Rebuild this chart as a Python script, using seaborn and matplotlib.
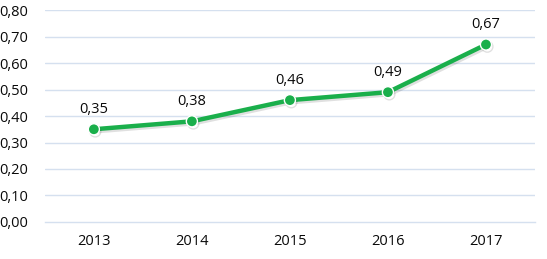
import matplotlib.pyplot as plt
import matplotlib.patheffects as pe
import numpy as np
import pandas as pd
import seaborn as sns

years = ["2013", "2014", "2015", "2016", "2017"]
values = [0.35, 0.38, 0.46, 0.49, 0.67]
yticks = [0.0, 0.1, 0.2, 0.3, 0.4, 0.5, 0.6, 0.7, 0.8]

df = pd.DataFrame({"pos": np.arange(len(years)), "value": values})

sns.set_style("white")
plt.rcParams["font.family"] = ["Open Sans", "DejaVu Sans"]

grid_c = "#d5e0ef"
green = "#1aaf4b"
txt = "#0a0a0a"

fig = plt.figure(figsize=(5.47, 2.59), dpi=100)
ax = fig.add_axes([0.082, 0.143, 0.896, 0.818])

for t in yticks[1:]:
    ax.axhline(t, color=grid_c, lw=1, zorder=0)

sns.lineplot(data=df, x="pos", y="value", ax=ax, color=green, lw=3.2,
             marker="o", markersize=8, markeredgecolor="white",
             markeredgewidth=1, zorder=3,
             path_effects=[pe.SimpleLineShadow(offset=(1, -1.5), alpha=0.12),
                           pe.Normal()])

for x, v in zip(df["pos"], values):
    ax.annotate(f"{v:.2f}".replace(".", ","), (x, v), xytext=(0, 9),
                textcoords="offset points", ha="center", va="bottom",
                fontsize=10.5, color=txt)

ax.set_xlim(-0.5, len(years) - 0.5)
ax.set_ylim(0, 0.8)
ax.set_yticks(yticks)
ax.set_yticklabels([f"{t:.2f}".replace(".", ",") for t in yticks])
ax.set_xticks(df["pos"])
ax.set_xticklabels(years)
ax.set_xticks(np.arange(-0.5, len(years)), minor=True)
ax.tick_params(axis="x", which="major", length=0, pad=9, labelsize=10.5,
               colors=txt)
ax.tick_params(axis="x", which="minor", length=5, color=grid_c, width=1)
ax.tick_params(axis="y", length=0, pad=12, labelsize=10.5, colors=txt)
ax.set_xlabel("")
ax.set_ylabel("")

for s in ["top", "right", "left"]:
    ax.spines[s].set_visible(False)
ax.spines["bottom"].set_color(grid_c)
ax.spines["bottom"].set_linewidth(1)

fig.savefig("out.png", dpi=100)
